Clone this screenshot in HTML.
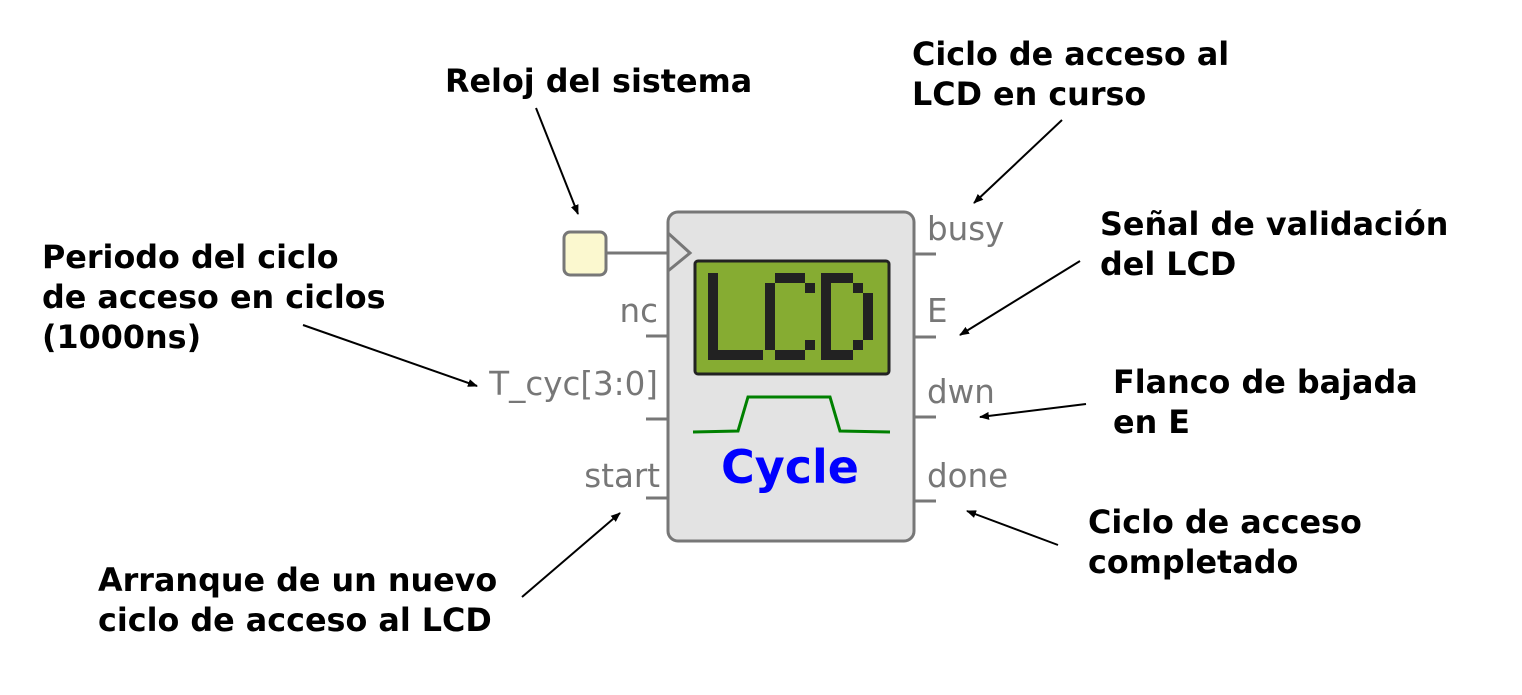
<!DOCTYPE html>
<html><head><meta charset="utf-8"><style>
html,body{margin:0;padding:0;background:#fff;width:1522px;height:695px;overflow:hidden}
.b{font-family:"DejaVu Sans","Liberation Sans",sans-serif;font-weight:bold;font-size:31.8px;fill:#000}
.g{font-family:"DejaVu Sans","Liberation Sans",sans-serif;font-size:32.5px;fill:#777}
</style></head><body>
<svg width="1522" height="695" viewBox="0 0 1522 695" xmlns="http://www.w3.org/2000/svg">
<defs><marker id="a" markerWidth="10" markerHeight="8" refX="9" refY="4" orient="auto" markerUnits="userSpaceOnUse"><path d="M0,0 L10,4 L0,8 z" fill="#000"/></marker></defs>
<g stroke="#777" stroke-width="3" fill="none">
<line x1="606" y1="253" x2="668" y2="253"/>
<line x1="646" y1="336" x2="668" y2="336"/><line x1="646" y1="419" x2="668" y2="419"/><line x1="646" y1="498" x2="668" y2="498"/>
<line x1="914" y1="254" x2="936" y2="254"/><line x1="914" y1="337" x2="936" y2="337"/><line x1="914" y1="417" x2="936" y2="417"/><line x1="914" y1="501" x2="936" y2="501"/>
</g>
<rect x="564" y="232" width="42" height="43" rx="6" fill="#fbf8cf" stroke="#777" stroke-width="3"/>
<rect x="668" y="212" width="246" height="329" rx="10" fill="#e3e3e3" stroke="#777" stroke-width="3"/>
<polyline points="668,233 690,253 668,271" fill="none" stroke="#777" stroke-width="3"/>
<rect x="695" y="261" width="194" height="113" rx="3" fill="#86ac32" stroke="#222" stroke-width="3"/>
<g fill="#222">
<rect x="708" y="273" width="10" height="87"/><rect x="708" y="350" width="55" height="10"/>
<rect x="775" y="273" width="30" height="10"/><rect x="765" y="283" width="10" height="67"/><rect x="775" y="350" width="30" height="10"/><rect x="805" y="283" width="10" height="10"/><rect x="805" y="340" width="10" height="10"/>
<rect x="821" y="273" width="10" height="87"/><rect x="821" y="273" width="32" height="10"/><rect x="821" y="350" width="32" height="10"/><rect x="853" y="283" width="10" height="10"/><rect x="853" y="340" width="10" height="10"/><rect x="863" y="293" width="10" height="47"/>
</g>
<polyline points="693,432 738,431 748,397 830,397 840,431 890,432" fill="none" stroke="#008000" stroke-width="3"/>
<text x="790" y="483" text-anchor="middle" font-family="DejaVu Sans,sans-serif" font-weight="bold" font-size="46" fill="#0000ff">Cycle</text>
<text class="g" x="658" y="322" text-anchor="end">nc</text>
<text class="g" x="658" y="395" text-anchor="end">T_cyc[3:0]</text>
<text class="g" x="660" y="487" text-anchor="end">start</text>
<text class="g" x="927" y="240">busy</text>
<text class="g" x="927" y="322">E</text>
<text class="g" x="927" y="403">dwn</text>
<text class="g" x="927" y="487">done</text>
<g stroke="#000" stroke-width="2" marker-end="url(#a)">
<line x1="536" y1="108" x2="578" y2="214"/>
<line x1="1062" y1="120" x2="974" y2="203"/>
<line x1="1080" y1="261" x2="960" y2="335"/>
<line x1="303" y1="325" x2="477" y2="386"/>
<line x1="1086" y1="404" x2="980" y2="417"/>
<line x1="1058" y1="545" x2="967" y2="511"/>
<line x1="522" y1="597" x2="620" y2="513"/>
</g>
<text class="b" x="445" y="92">Reloj del sistema</text>
<text class="b" x="912" y="65">Ciclo de acceso al</text>
<text class="b" x="912" y="105">LCD en curso</text>
<text class="b" x="1100" y="235">Señal de validación</text>
<text class="b" x="1100" y="275">del LCD</text>
<text class="b" x="42" y="268">Periodo del ciclo</text>
<text class="b" x="42" y="308">de acceso en ciclos</text>
<text class="b" x="42" y="348">(1000ns)</text>
<text class="b" x="1113" y="393">Flanco de bajada</text>
<text class="b" x="1113" y="433">en E</text>
<text class="b" x="1088" y="533">Ciclo de acceso</text>
<text class="b" x="1088" y="573">completado</text>
<text class="b" x="98" y="591">Arranque de un nuevo</text>
<text class="b" x="98" y="631">ciclo de acceso al LCD</text>
</svg>
</body></html>
